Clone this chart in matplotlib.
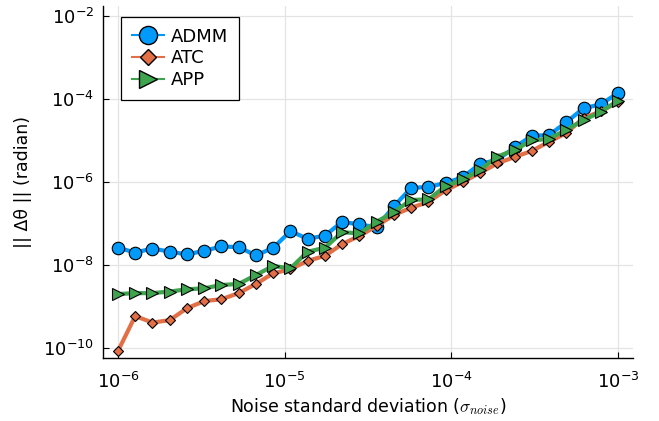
import numpy as np
import matplotlib
matplotlib.use("Agg")
import matplotlib.pyplot as plt
from matplotlib.lines import Line2D

plt.rcParams['font.family'] = ['DejaVu Sans']
plt.rcParams['mathtext.fontset'] = 'cm'

# noise standard deviations (30 log-spaced samples from 1e-6 to 1e-3)
sigma_noise = np.logspace(-6, -3, 30)

admm = [2.6e-8, 2.0e-8, 2.5e-8, 2.1e-8, 1.8e-8, 2.2e-8, 2.8e-8, 2.7e-8, 1.7e-8, 2.6e-8,
        6.5e-8, 4.3e-8, 5.1e-8, 1.1e-7, 9.5e-8, 8.1e-8, 2.6e-7, 7.2e-7, 7.6e-7, 9.5e-7,
        1.3e-6, 2.75e-6, 3.4e-6, 6.8e-6, 1.3e-5, 1.35e-5, 2.75e-5, 6.0e-5, 7.4e-5, 1.4e-4]
atc = [8.5e-11, 5.9e-10, 4.1e-10, 4.7e-10, 9.1e-10, 1.35e-9, 1.5e-9, 2.1e-9, 3.5e-9, 6.3e-9,
       7.9e-9, 1.26e-8, 1.66e-8, 3.2e-8, 5.0e-8, 8.7e-8, 1.6e-7, 2.4e-7, 3.3e-7, 6.3e-7,
       1.0e-6, 1.66e-6, 2.8e-6, 4.0e-6, 5.6e-6, 9.3e-6, 1.5e-5, 3.5e-5, 5.0e-5, 8.5e-5]
app = [2.0e-9, 2.1e-9, 2.1e-9, 2.3e-9, 2.6e-9, 2.75e-9, 3.3e-9, 3.5e-9, 5.75e-9, 9.5e-9,
       8.3e-9, 2.1e-8, 2.6e-8, 6.2e-8, 5.75e-8, 1.1e-7, 1.9e-7, 3.7e-7, 3.8e-7, 7.9e-7,
       1.15e-6, 1.95e-6, 4.1e-6, 5.9e-6, 1.0e-5, 1.1e-5, 1.8e-5, 3.1e-5, 4.9e-5, 9.1e-5]

labels = ["ADMM", "ATC", "APP"]
colors = ["#009AFA", "#E36F47", "#3EA44E"]
markers = ["o", "D", ">"]
msizes = [9, 5.6, 9]
xticks = [1e-6, 1e-5, 1e-4, 1e-3]
yticks = [1e-10, 1e-8, 1e-6, 1e-4, 1e-2]

fig = plt.figure(figsize=(6.59, 4.21), dpi=100)
ax = fig.add_axes([103/659, 1-358/421, 530/659, 352/421])

for y, c, m, s in zip([admm, atc, app], colors, markers, msizes):
    ax.plot(sigma_noise, y, color=c, lw=3, marker=m, ms=s,
            mfc=c, mec='black', mew=0.8)

ax.set_xscale('log')
ax.set_yscale('log')
lx0, lx1 = -6, -3
ly0, ly1 = -10, -2
px = 0.03 * (lx1 - lx0)
py = 0.03 * (ly1 - ly0)
ax.set_xlim(10**(lx0 - px), 10**(lx1 + px))
ax.set_ylim(10**(ly0 - py), 10**(ly1 + py))
ax.set_xticks(xticks)
ax.set_yticks(yticks)
ax.minorticks_off()
ax.tick_params(direction='in', length=4, width=0.8, labelsize=13, colors='black')
ax.tick_params(axis='x', pad=10)
ax.tick_params(axis='y', pad=6.5)
ax.grid(True, color='#e4e4e4', lw=0.9)
ax.set_axisbelow(True)
for sp in ['top', 'right']:
    ax.spines[sp].set_visible(False)
for sp in ['left', 'bottom']:
    ax.spines[sp].set_linewidth(1.0)

ax.set_xlabel(r"Noise standard deviation ($\sigma_{noise}$)", fontsize=12.5, labelpad=3)
ax.set_ylabel("|| Δθ || (radian)", fontsize=12.5, labelpad=8)

handles = [Line2D([], [], color=c, lw=1.5, marker=m, ms=s * 1.45, mfc=c, mec='black', mew=1.0)
           for c, m, s in zip(colors, markers, msizes)]
leg = ax.legend(handles, labels, loc='upper left', bbox_to_anchor=(0.034, 0.969),
                borderaxespad=0, fontsize=13, frameon=True, fancybox=False,
                edgecolor='black', framealpha=1, handlelength=1.8, handletextpad=0.35,
                labelspacing=0.2, borderpad=0.6)
leg.get_frame().set_linewidth(0.9)

fig.savefig("out.png", dpi=100)
